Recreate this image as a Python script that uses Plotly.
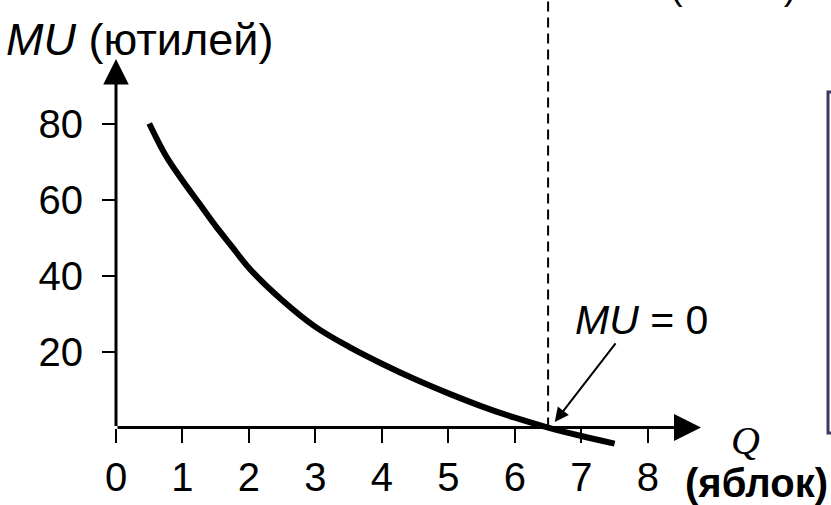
import plotly.graph_objects as go

# ---- data ----
Q = [0.5, 0.75, 1.0, 1.25, 1.5, 1.75, 2.0, 2.5, 3.0, 3.5, 4.0, 4.5, 5.0, 5.5, 6.0, 6.5, 7.0, 7.5]
MU = [80, 71.5, 65, 59, 53, 47.5, 42, 33.5, 26.5, 21.3, 16.8, 12.7, 9.0, 5.6, 2.6, 0, -2.2, -4.2]
x_ticks = [0, 1, 2, 3, 4, 5, 6, 7, 8]
y_ticks = [20, 40, 60, 80]
MU_ZERO_Q = 6.5

# ---- layout geometry ----
W_PX, H_PX = 831, 505
L, R, T, B = 116, 130, 0, 47
PW = W_PX - L - R
PH = H_PX - T - B
X_RANGE = [0, 8.8]
Y_RANGE = [-8, 112.5]

def px_x(p):
    return (p - L) / PW

def px_y(p):
    return (T + PH - p) / PH

FONT = "Liberation Sans, Arial, sans-serif"

fig = go.Figure()
fig.add_trace(go.Scatter(x=Q, y=MU, mode="lines", line=dict(color="black", width=6, shape="spline"),
                         hoverinfo="skip", showlegend=False))

# axis arrows (drawn in data coordinates)
fig.add_annotation(x=X_RANGE[1], y=0, ax=0, ay=0, xref="x", yref="y", axref="x", ayref="y",
                   showarrow=True, arrowhead=2, arrowsize=1.8, arrowwidth=3, arrowcolor="black", text="")
fig.add_annotation(x=0, y=97, ax=0, ay=0, xref="x", yref="y", axref="x", ayref="y",
                   showarrow=True, arrowhead=2, arrowsize=1.7, arrowwidth=3, arrowcolor="black", text="")

# dashed guide at MU = 0
fig.add_shape(type="line", xref="x", yref="y", x0=MU_ZERO_Q, x1=MU_ZERO_Q, y0=0, y1=Y_RANGE[1],
              line=dict(color="black", width=2, dash="10px,6px"))

# MU = 0 pointer
fig.add_annotation(x=MU_ZERO_Q + 0.1, y=1.5, xref="x", yref="y", ax=62, ay=-80,
                   showarrow=True, arrowhead=2, arrowsize=1.4, arrowwidth=2, arrowcolor="black", text="")
fig.add_annotation(x=px_x(573), y=px_y(320), xref="paper", yref="paper", xanchor="left", yanchor="middle",
                   text="<i>MU</i> = 0", showarrow=False, font=dict(family=FONT, size=41, color="black"))

# axis titles
fig.add_annotation(x=px_x(4), y=px_y(40), xref="paper", yref="paper", xanchor="left", yanchor="middle",
                   text="<i>MU</i> (ютилей)", showarrow=False, font=dict(family=FONT, size=45, color="black"))
fig.add_annotation(x=px_x(745), y=px_y(440), xref="paper", yref="paper", xanchor="center", yanchor="middle",
                   text="<i>Q</i>", showarrow=False,
                   font=dict(family="Liberation Serif, Times New Roman, serif", size=40, color="black"))
fig.add_annotation(x=px_x(830), y=px_y(483), xref="paper", yref="paper", xanchor="right", yanchor="middle",
                   text="<b>(яблок)</b>", showarrow=False, font=dict(family=FONT, size=40, color="black"))
# cut-off label at top edge (only its lower edge shows, as in the source)
fig.add_annotation(x=px_x(733), y=px_y(9), xref="paper", yref="paper", xanchor="center", yanchor="bottom",
                   text="(яблок)", showarrow=False, font=dict(family=FONT, size=38, color="black"))

# box at right edge
fig.add_shape(type="rect", xref="paper", yref="paper", x0=px_x(828), x1=px_x(845), y0=px_y(433), y1=px_y(92),
              line=dict(color="#3a3a66", width=3), fillcolor="rgba(0,0,0,0)")

fig.update_layout(
    width=W_PX, height=H_PX,
    margin=dict(l=L, r=R, t=T, b=B, pad=0, autoexpand=False),
    paper_bgcolor="white", plot_bgcolor="white",
    showlegend=False,
    xaxis=dict(range=X_RANGE, anchor="free", position=(0 - Y_RANGE[0]) / (Y_RANGE[1] - Y_RANGE[0]),
               automargin=False,
               showgrid=False, zeroline=False, showline=False,
               tickmode="array", tickvals=x_ticks, ticktext=[str(v) for v in x_ticks],
               ticks="outside", ticklen=14, tickwidth=2, tickcolor="black",
               ticklabelstandoff=0,
               tickfont=dict(family=FONT, size=40, color="black")),
    yaxis=dict(range=Y_RANGE, automargin=False, showgrid=False, zeroline=False, showline=False,
               tickmode="array", tickvals=y_ticks, ticktext=[str(v) for v in y_ticks],
               ticks="outside", ticklen=13, tickwidth=2, tickcolor="black",
               ticklabelstandoff=11,
               tickfont=dict(family=FONT, size=40, color="black")),
)

fig.write_html("out.html", config={"displayModeBar": False},
               post_script="document.body.style.margin='0';document.body.style.overflow='hidden';")
